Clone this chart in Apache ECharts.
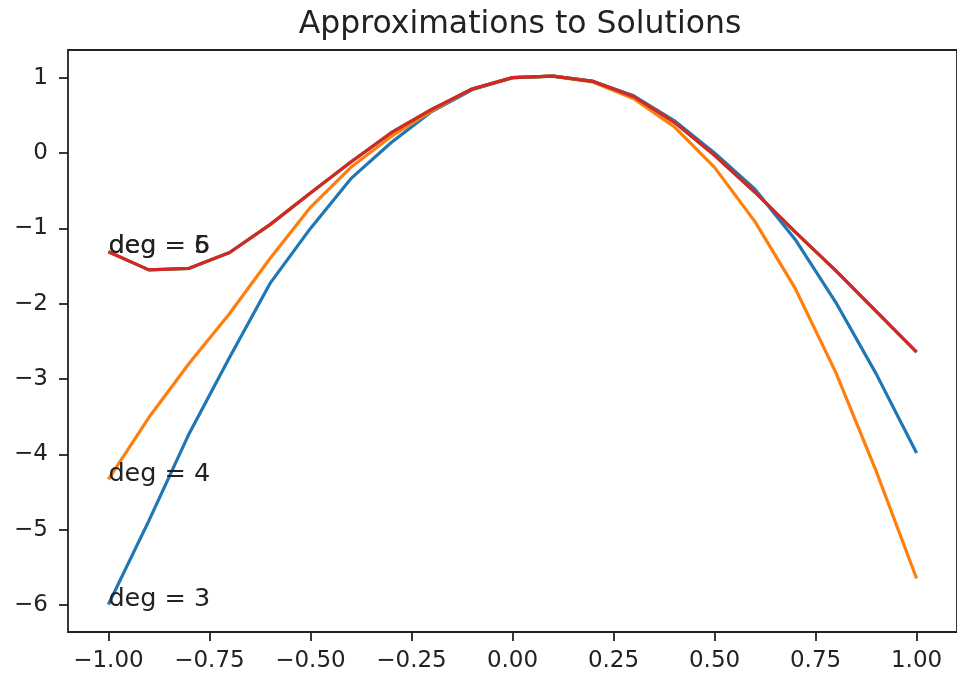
<!DOCTYPE html>
<html>
<head>
<meta charset="utf-8">
<script src="https://cdn.jsdelivr.net/npm/echarts@6/dist/echarts.min.js"></script>
<style>
html,body{margin:0;padding:0;background:#fff;}
#chart{width:957px;height:676px;}
</style>
</head>
<body>
<div id="chart"></div>
<script>
// ---- data ----
const xs = [-1.0, -0.9, -0.8, -0.7, -0.6, -0.5, -0.4, -0.3, -0.2, -0.1, 0.0, 0.1, 0.2, 0.3, 0.4, 0.5, 0.6, 0.7, 0.8, 0.9, 1.0];
const deg3 = [-5.99, -4.88, -3.72, -2.71, -1.73, -1.00, -0.34, 0.14, 0.55, 0.84, 1.00, 1.02, 0.95, 0.76, 0.43, 0.00, -0.48, -1.15, -1.98, -2.93, -3.98];
const deg4 = [-4.33, -3.51, -2.79, -2.13, -1.40, -0.72, -0.19, 0.22, 0.56, 0.85, 1.00, 1.02, 0.94, 0.72, 0.35, -0.19, -0.91, -1.80, -2.91, -4.22, -5.645];
const deg5 = [-1.31, -1.55, -1.53, -1.32, -0.95, -0.53, -0.12, 0.27, 0.58, 0.85, 1.00, 1.02, 0.95, 0.75, 0.41, -0.03, -0.52, -1.05, -1.56, -2.10, -2.64];
const deg6 = [-1.31, -1.55, -1.53, -1.32, -0.95, -0.53, -0.12, 0.27, 0.58, 0.85, 1.00, 1.02, 0.95, 0.75, 0.41, -0.03, -0.52, -1.05, -1.56, -2.10, -2.64];
const seriesNames = ['deg = 3', 'deg = 4', 'deg = 5', 'deg = 6'];
const xTicks = [-1.0, -0.75, -0.5, -0.25, 0.0, 0.25, 0.5, 0.75, 1.0];
const yTicks = [-6, -5, -4, -3, -2, -1, 0, 1];
const titleText = 'Approximations to Solutions';

// ---- styling ----
const FONT = 'DejaVu Sans';
const TEXT = '#222';
const colors = ['#1f77b4', '#ff7f0e', '#2ca02c', '#d62728'];
const allSeries = [deg3, deg4, deg5, deg6];

function fmtX(v) {
  const s = Math.abs(v).toFixed(2);
  return (v < -1e-9 ? '\u2212' : '') + s;
}
function fmtY(v) {
  const r = Math.round(v);
  return (r < 0 ? '\u2212' : '') + Math.abs(r);
}

const series = allSeries.map((vals, i) => ({
  name: seriesNames[i],
  type: 'line',
  data: xs.map((x, k) => [x, vals[k]]),
  showSymbol: false,
  symbol: 'none',
  lineStyle: { color: colors[i], width: 3.2 },
  itemStyle: { color: colors[i] },
  z: 2 + i,
  silent: true,
  markPoint: {
    symbol: 'circle',
    symbolSize: 0,
    silent: true,
    animation: false,
    data: [{ coord: [xs[0], vals[0]] }],
    label: {
      show: true,
      formatter: seriesNames[i],
      position: 'right',
      distance: 0,
      offset: [0, -5],
      color: TEXT,
      fontFamily: FONT,
      fontSize: 25.5
    }
  }
}));

const chart = echarts.init(document.getElementById('chart'), null, { renderer: 'canvas' });
chart.setOption({
  animation: false,
  backgroundColor: '#fff',
  title: {
    text: titleText,
    left: 515,
    textAlign: 'center',
    top: 4,
    textStyle: { fontFamily: FONT, fontSize: 31.5, fontWeight: 'normal', color: TEXT }
  },
  grid: {
    left: 68, top: 50, width: 894, height: 582,
    show: true, borderColor: '#222', borderWidth: 1.8, backgroundColor: 'transparent'
  },
  xAxis: {
    type: 'value',
    min: -1.1, max: 1.1,
    axisLine: { show: false, onZero: false },
    splitLine: { show: false },
    axisTick: { show: true, customValues: xTicks, length: 9, inside: false, lineStyle: { color: '#222', width: 1.8 } },
    axisLabel: { customValues: xTicks, formatter: fmtX, margin: 18, color: TEXT, fontFamily: FONT, fontSize: 23 }
  },
  yAxis: {
    type: 'value',
    min: -6.355, max: 1.367,
    axisLine: { show: false, onZero: false },
    splitLine: { show: false },
    axisTick: { show: true, customValues: yTicks, length: 9, inside: false, lineStyle: { color: '#222', width: 1.8 } },
    axisLabel: { customValues: yTicks, formatter: fmtY, margin: 20, color: TEXT, fontFamily: FONT, fontSize: 23 }
  },
  series: series
});
</script>
</body>
</html>
